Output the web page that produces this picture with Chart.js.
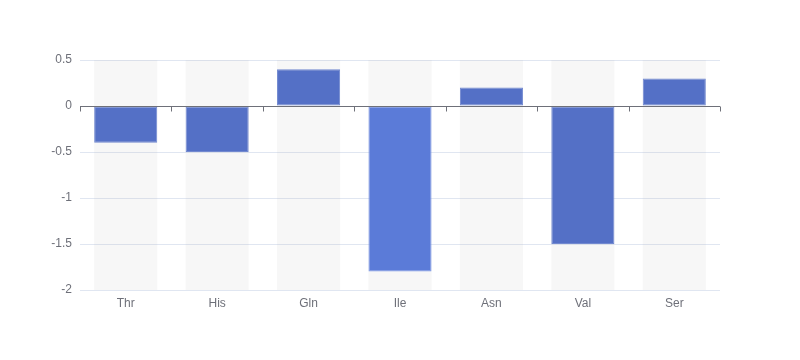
<!DOCTYPE html>
<html>
<head>
<meta charset="utf-8">
<script src="https://cdn.jsdelivr.net/npm/chart.js@4"></script>
<style>
  html, body { margin: 0; padding: 0; background: #fff; }
  #wrap { width: 800px; height: 360px; }
</style>
</head>
<body>
<div id="wrap"><canvas id="chart" width="800" height="360"></canvas></div>
<script>
const categories = ['Thr', 'His', 'Gln', 'Ile', 'Asn', 'Val', 'Ser'];
const values = [-0.4, -0.5, 0.4, -1.8, 0.2, -1.5, 0.3];
const yMin = -2;
const yMax = 0.5;
const yStep = 0.5;
const highlighted = 'Ile';

const axisColor = '#6e7079';

// axis line through zero with small ticks at category boundaries
const zeroAxis = {
  id: 'zeroAxis',
  afterDatasetsDraw(chart) {
    const { ctx, chartArea, scales: { x, y } } = chart;
    const y0 = Math.round(y.getPixelForValue(0)) + 0.5;
    ctx.save();
    ctx.strokeStyle = axisColor;
    ctx.lineWidth = 1;
    ctx.beginPath();
    ctx.moveTo(chartArea.left, y0);
    ctx.lineTo(chartArea.right, y0);
    const n = categories.length;
    for (let i = 0; i <= n; i++) {
      const px = Math.round(chartArea.left + (chartArea.right - chartArea.left) * i / n) + 0.5;
      ctx.moveTo(px, y0);
      ctx.lineTo(px, y0 + 5);
    }
    ctx.stroke();
    ctx.restore();
  }
};

new Chart(document.getElementById('chart'), {
  type: 'bar',
  data: {
    labels: categories,
    datasets: [
      {
        data: values,
        backgroundColor: ctx => categories[ctx.dataIndex] === highlighted ? '#5b7bd8' : '#5470c6',
        borderColor: ctx => categories[ctx.dataIndex] === highlighted ? '#7d98e6' : '#7289d0',
        borderWidth: 1,
        borderSkipped: false,
        grouped: false,
        order: 1,
        barPercentage: 0.69,
        categoryPercentage: 1
      },
      {
        data: categories.map(() => [yMin, yMax]),
        backgroundColor: 'rgba(180,180,180,0.1)',
        borderWidth: 0,
        grouped: false,
        order: 2,
        barPercentage: 0.69,
        categoryPercentage: 1
      }
    ]
  },
  options: {
    responsive: false,
    animation: false,
    layout: { padding: { top: 60, right: 80, bottom: 0, left: 0 } },
    plugins: { legend: { display: false }, tooltip: { enabled: false } },
    scales: {
      x: {
        grid: { display: false, drawTicks: false },
        border: { display: false },
        ticks: { color: axisColor, font: { size: 12, family: 'sans-serif' }, padding: 6 },
        afterFit(scale) { scale.height = 70; }
      },
      y: {
        min: yMin,
        max: yMax,
        grid: { color: '#e0e6f1', drawTicks: false },
        border: { display: false },
        ticks: {
          stepSize: yStep,
          color: axisColor,
          font: { size: 12, family: 'sans-serif' },
          padding: 8,
          callback: v => String(Math.round(v * 10) / 10)
        },
        afterFit(scale) { scale.width = 80; }
      }
    }
  },
  plugins: [zeroAxis]
});
</script>
</body>
</html>
